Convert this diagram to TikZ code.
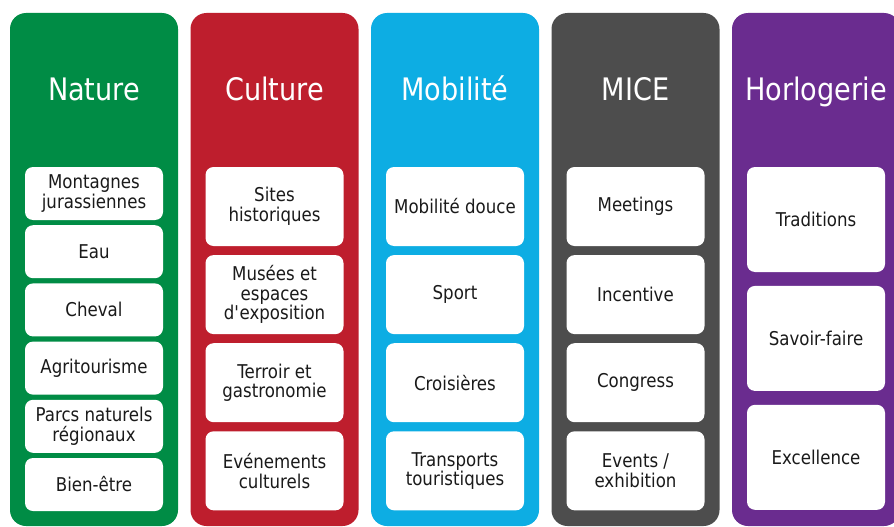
\documentclass[tikz,border=0pt]{standalone}
\usepackage{fontspec}
\setmainfont{DejaVu Sans}[FakeStretch=0.875]
\usepackage{tikz}
\usetikzlibrary{positioning}
\definecolor{natgreen}{HTML}{008C45}
\definecolor{culred}{HTML}{BE1E2D}
\definecolor{mobblue}{HTML}{0DADE3}
\definecolor{micegrey}{HTML}{4D4D4D}
\definecolor{horpurple}{HTML}{6A2C8F}
\definecolor{boxtext}{HTML}{1A1A1A}
\tikzstyle{column} = [rectangle,rounded corners=16pt,minimum width=168pt,minimum height=513pt,inner sep=0pt]
\tikzstyle{title} = [anchor=base,text=white,font=\fontsize{31}{31}\selectfont,inner sep=0pt]
\tikzstyle{block} = [fill=white,rectangle,rounded corners=8pt,minimum width=138pt,inner sep=0pt,align=center,text=boxtext,font=\fontsize{19}{19.5}\selectfont]

\begin{document}
\begin{tikzpicture}[x=1pt,y=-1pt]
	\clip (0,0) rectangle (894,527);
	\fill[white] (0,0) rectangle (894,527);

	% the five columns
	\node[column, fill=natgreen] (nature) at (94,269.5) {};
	\node[column, fill=culred] (culture) at (274.5,269.5) {};
	\node[column, fill=mobblue] (mobilite) at (455,269.5) {};
	\node[column, fill=micegrey] (mice) at (635.5,269.5) {};
	\node[column, fill=horpurple] (horlo) at (816,269.5) {};

	\node[title] (natT) at (94,100) {Nature};
	\node[title] (culT) at (274.5,100) {Culture};
	\node[title] (mobT) at (455,100) {Mobilité};
	\node[title] (miceT) at (635.5,100) {MICE};
	\node[title] (horT) at (816,100) {Horlogerie};

	% Nature
	\node[block, minimum height=53pt] (nat1) at (94,193.5) {Montagnes\\jurassiennes};
	\node[block, minimum height=53pt, below = 4.8pt of nat1] (nat2) {Eau};
	\node[block, minimum height=53pt, below = 4.8pt of nat2] (nat3) {Cheval};
	\node[block, minimum height=53pt, below = 4.8pt of nat3] (nat4) {Agritourisme};
	\node[block, minimum height=53pt, below = 4.8pt of nat4] (nat5) {Parcs naturels\\régionaux};
	\node[block, minimum height=53pt, below = 4.8pt of nat5] (nat6) {Bien-être};

	% Culture
	\node[block, minimum height=79pt] (cul1) at (274.5,206.5) {Sites\\historiques};
	\node[block, minimum height=79pt, below = 8.7pt of cul1] (cul2) {Musées et\\espaces\\d\textquotesingle exposition};
	\node[block, minimum height=79pt, below = 8.7pt of cul2] (cul3) {Terroir et\\gastronomie};
	\node[block, minimum height=79pt, below = 8.7pt of cul3] (cul4) {Evénements\\culturels};

	% Mobilite
	\node[block, minimum height=79pt] (mob1) at (455,206.5) {Mobilité douce};
	\node[block, minimum height=79pt, below = 8.7pt of mob1] (mob2) {Sport};
	\node[block, minimum height=79pt, below = 8.7pt of mob2] (mob3) {Croisières};
	\node[block, minimum height=79pt, below = 8.7pt of mob3] (mob4) {Transports\\touristiques};

	% MICE
	\node[block, minimum height=79pt] (mice1) at (635.5,206.5) {Meetings};
	\node[block, minimum height=79pt, below = 8.7pt of mice1] (mice2) {Incentive};
	\node[block, minimum height=79pt, below = 8.7pt of mice2] (mice3) {Congress};
	\node[block, minimum height=79pt, below = 8.7pt of mice3] (mice4) {Events /\\exhibition};

	% Horlogerie
	\node[block, minimum height=105pt] (hor1) at (816,219.5) {Traditions};
	\node[block, minimum height=105pt, below = 13.5pt of hor1] (hor2) {Savoir-faire};
	\node[block, minimum height=105pt, below = 13.5pt of hor2] (hor3) {Excellence};

\end{tikzpicture}
\end{document}
